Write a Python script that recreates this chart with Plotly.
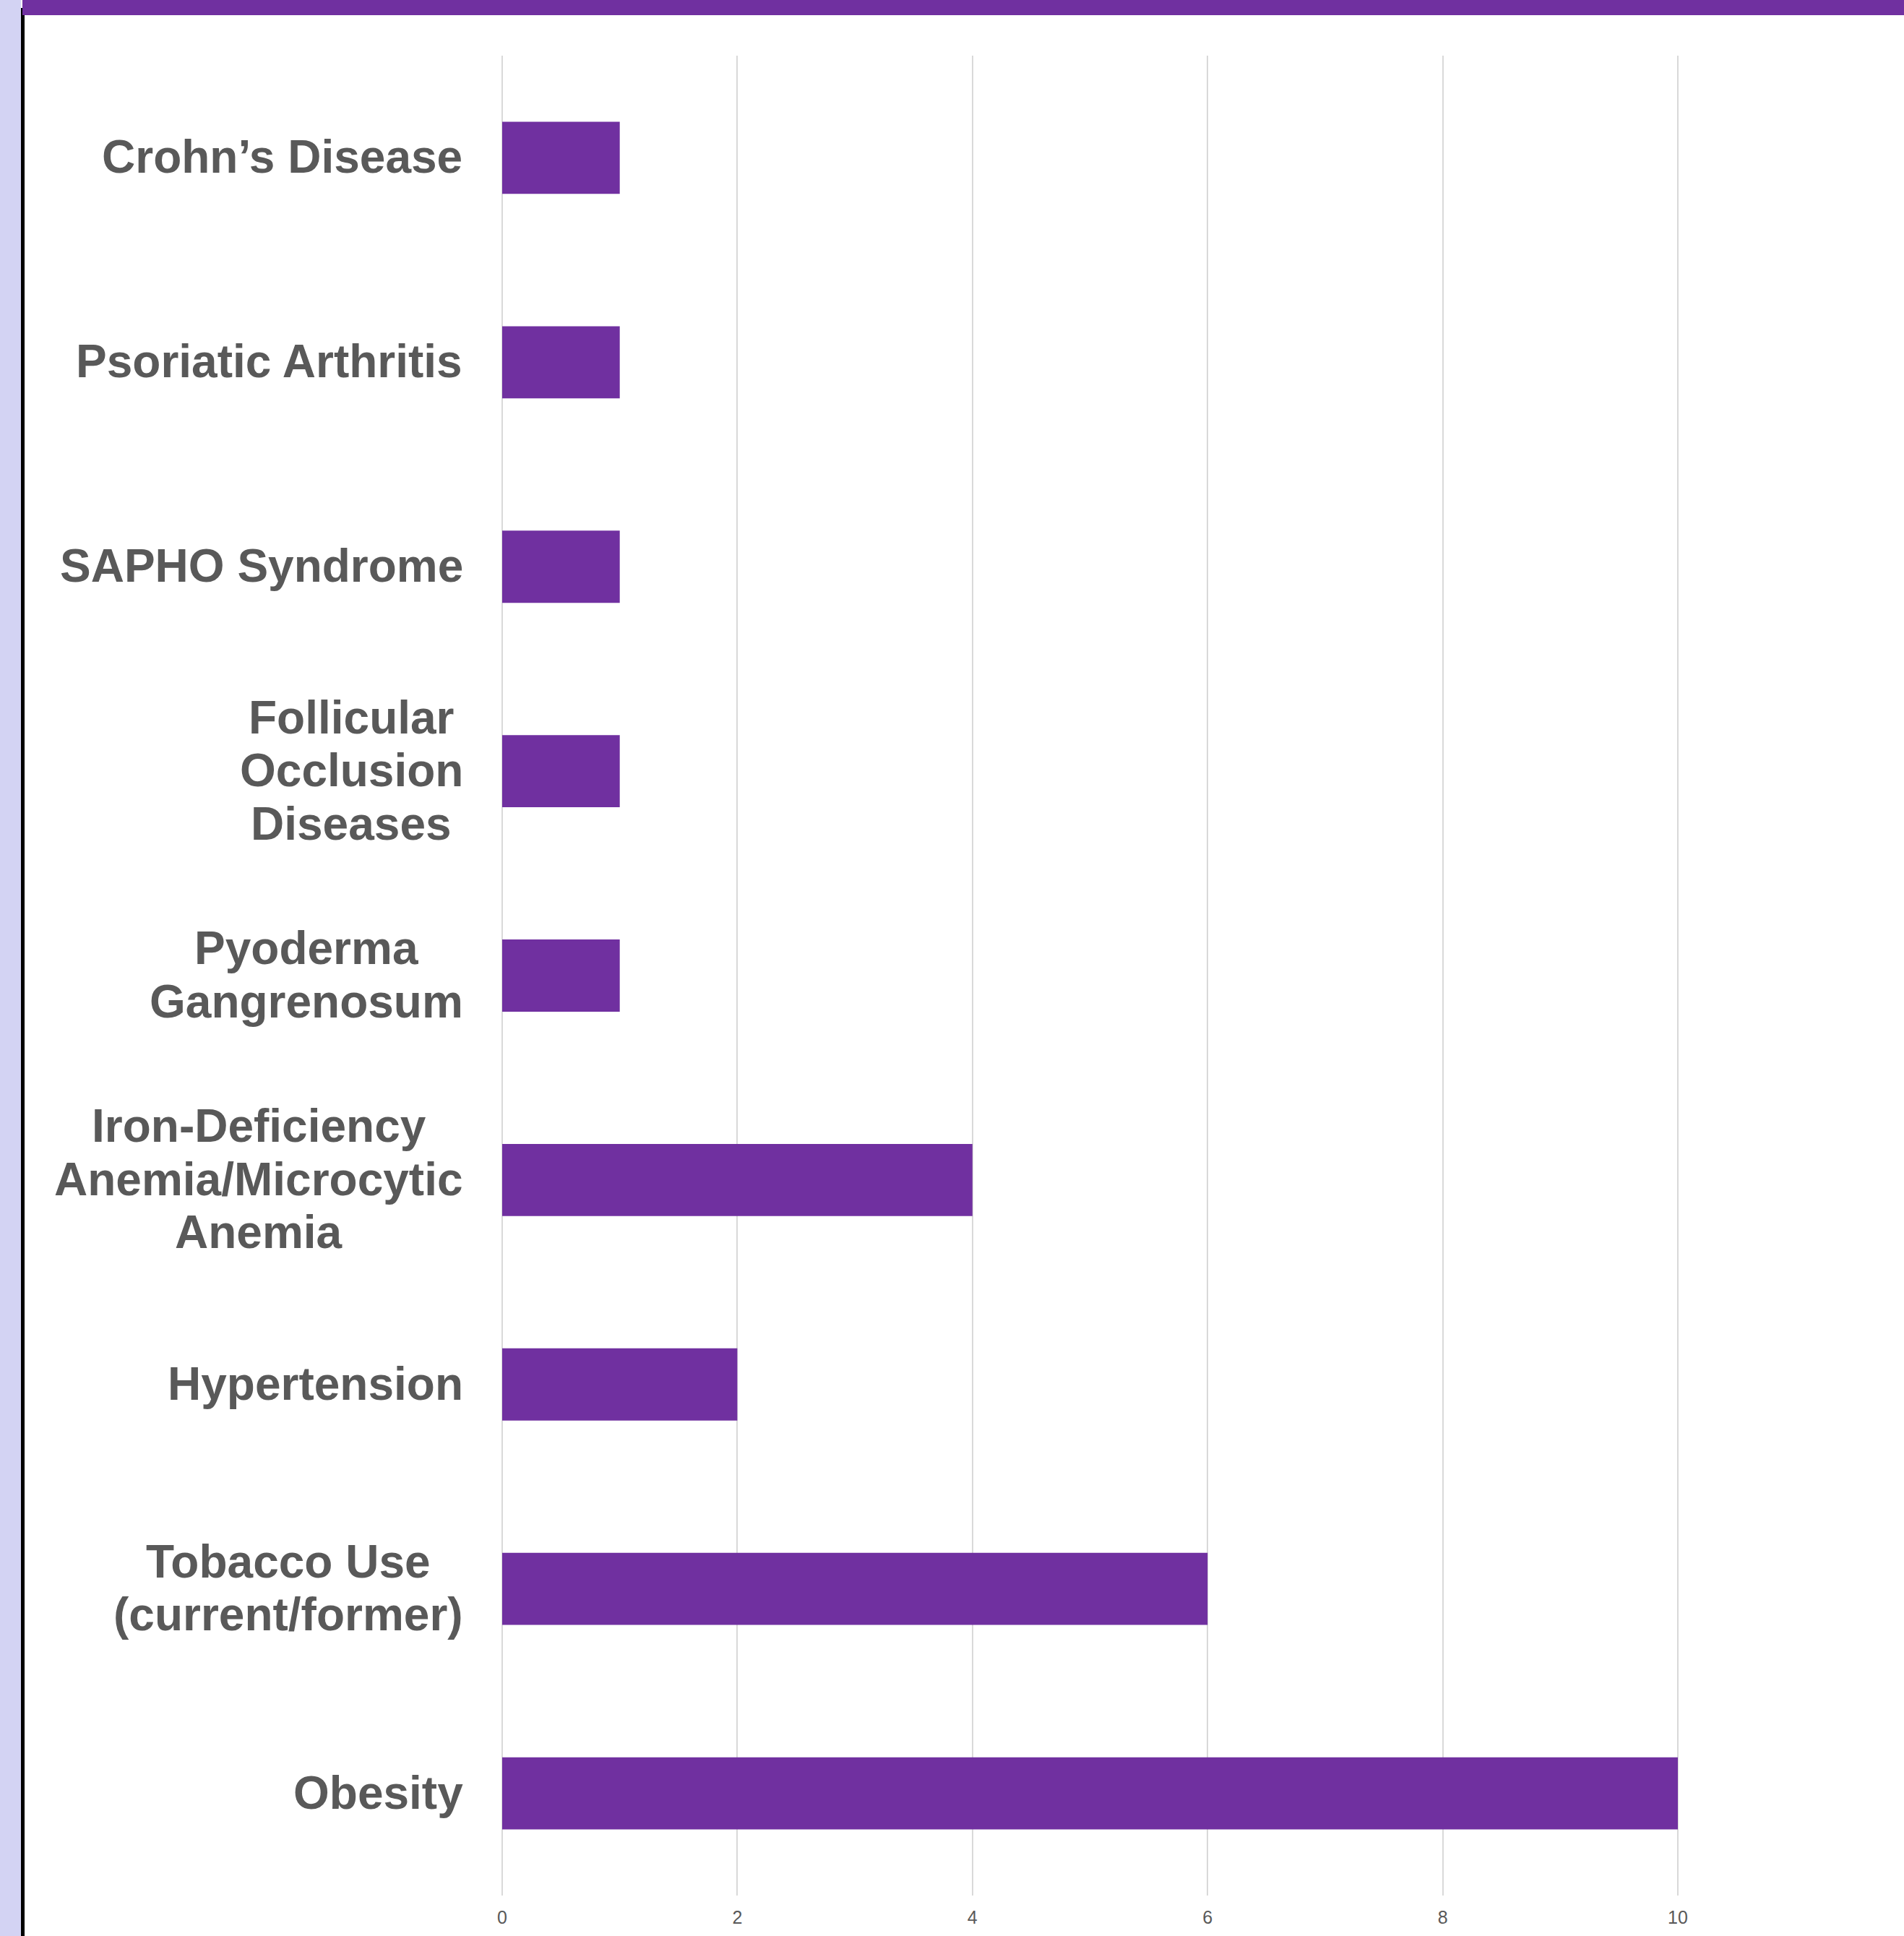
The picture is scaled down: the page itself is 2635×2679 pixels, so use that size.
import plotly.graph_objects as go

# ---- data ----
categories = [
    "Crohn’s Disease",
    "Psoriatic Arthritis",
    "SAPHO Syndrome",
    "Follicular<br>Occlusion<br>Diseases",
    "Pyoderma<br>Gangrenosum",
    "Iron-Deficiency<br>Anemia/Microcytic<br>Anemia",
    "Hypertension",
    "Tobacco Use<br>(current/former)",
    "Obesity",
]
counts = [1, 1, 1, 1, 1, 4, 2, 6, 10]
x_ticks = [0, 2, 4, 6, 8, 10]

# ---- geometry ----
W, H = 2635, 2679
L, R, T, B = 695, 0, 77, 56
PW, PH = W - L - R, H - T - B
PURPLE = "#7030A0"
GRAY_TXT = "#595959"


def px(xp):
    return (xp - L) / PW


def py(yp):
    return (H - B - yp) / PH


fig = go.Figure()
fig.add_trace(go.Bar(
    y=list(range(len(categories))),
    x=counts,
    orientation="h",
    marker=dict(color=PURPLE, line=dict(width=0)),
    width=0.353,
    hoverinfo="skip",
))


def est_width(s):
    # rough Arial Bold advance widths (em)
    w = {"A": .722, "B": .722, "C": .722, "D": .722, "E": .667, "F": .611, "G": .778,
         "H": .722, "I": .278, "L": .611, "M": .833, "O": .778, "P": .667, "R": .722,
         "S": .667, "T": .611, "U": .722, "Y": .667,
         "a": .556, "b": .611, "c": .556, "d": .611, "e": .556, "f": .333, "g": .611,
         "h": .611, "i": .278, "k": .556, "l": .278, "m": .889, "n": .611, "o": .611,
         "p": .611, "r": .389, "s": .556, "t": .333, "u": .611, "y": .556, "z": .5,
         " ": .278, "-": .333, "/": .278, "(": .333, ")": .333, "’": .278}
    return sum(w.get(ch, .6) for ch in s) * 64


LINE_GAP = 73.5
RIGHT_EDGE = 641  # px where the widest line ends
annotations = []
for i, lab in enumerate(categories):
    lines = lab.split("<br>")
    n = len(lines)
    maxw = max(est_width(s) for s in lines)
    cx = RIGHT_EDGE - maxw / 2
    for j, ln in enumerate(lines):
        off = ((n - 1) / 2 - j) * LINE_GAP
        annotations.append(dict(
            x=0, y=i, xref="x", yref="y",
            text=ln, showarrow=False,
            xanchor="center", yanchor="middle",
            xshift=cx - L, yshift=off + 1,
            font=dict(family="Liberation Sans, Arial, sans-serif", size=64,
                      color=GRAY_TXT, weight="bold"),
        ))

shapes = [
    dict(type="rect", xref="paper", yref="paper",
         x0=px(0), x1=px(29), y0=py(0), y1=py(H),
         fillcolor="#D3D3F3", line=dict(width=0), layer="above"),
    dict(type="rect", xref="paper", yref="paper",
         x0=px(29), x1=px(34), y0=py(11), y1=py(H),
         fillcolor="#000000", line=dict(width=0), layer="above"),
    dict(type="rect", xref="paper", yref="paper",
         x0=px(31), x1=px(W), y0=py(0), y1=py(21),
         fillcolor=PURPLE, line=dict(width=0), layer="above"),
]

fig.update_layout(
    width=W, height=H,
    margin=dict(l=L, r=R, t=T, b=B, pad=0),
    paper_bgcolor="white", plot_bgcolor="white",
    showlegend=False,
    annotations=annotations,
    shapes=shapes,
    xaxis=dict(
        range=[0, PW / 162.7],
        tickvals=x_ticks,
        ticktext=[str(v) for v in x_ticks],
        showgrid=True, gridcolor="#D9D9D9", gridwidth=2,
        zeroline=True, zerolinecolor="#D9D9D9", zerolinewidth=2,
        showline=False, ticks="",
        tickfont=dict(family="Liberation Sans, Arial, sans-serif", size=25, color=GRAY_TXT),
        ticklabelstandoff=13,
        fixedrange=True,
    ),
    yaxis=dict(
        range=[len(categories) - 0.5, -0.5],
        showticklabels=False, showgrid=False, zeroline=False,
        showline=False, ticks="", fixedrange=True,
    ),
)

fig.write_html("out.html")
